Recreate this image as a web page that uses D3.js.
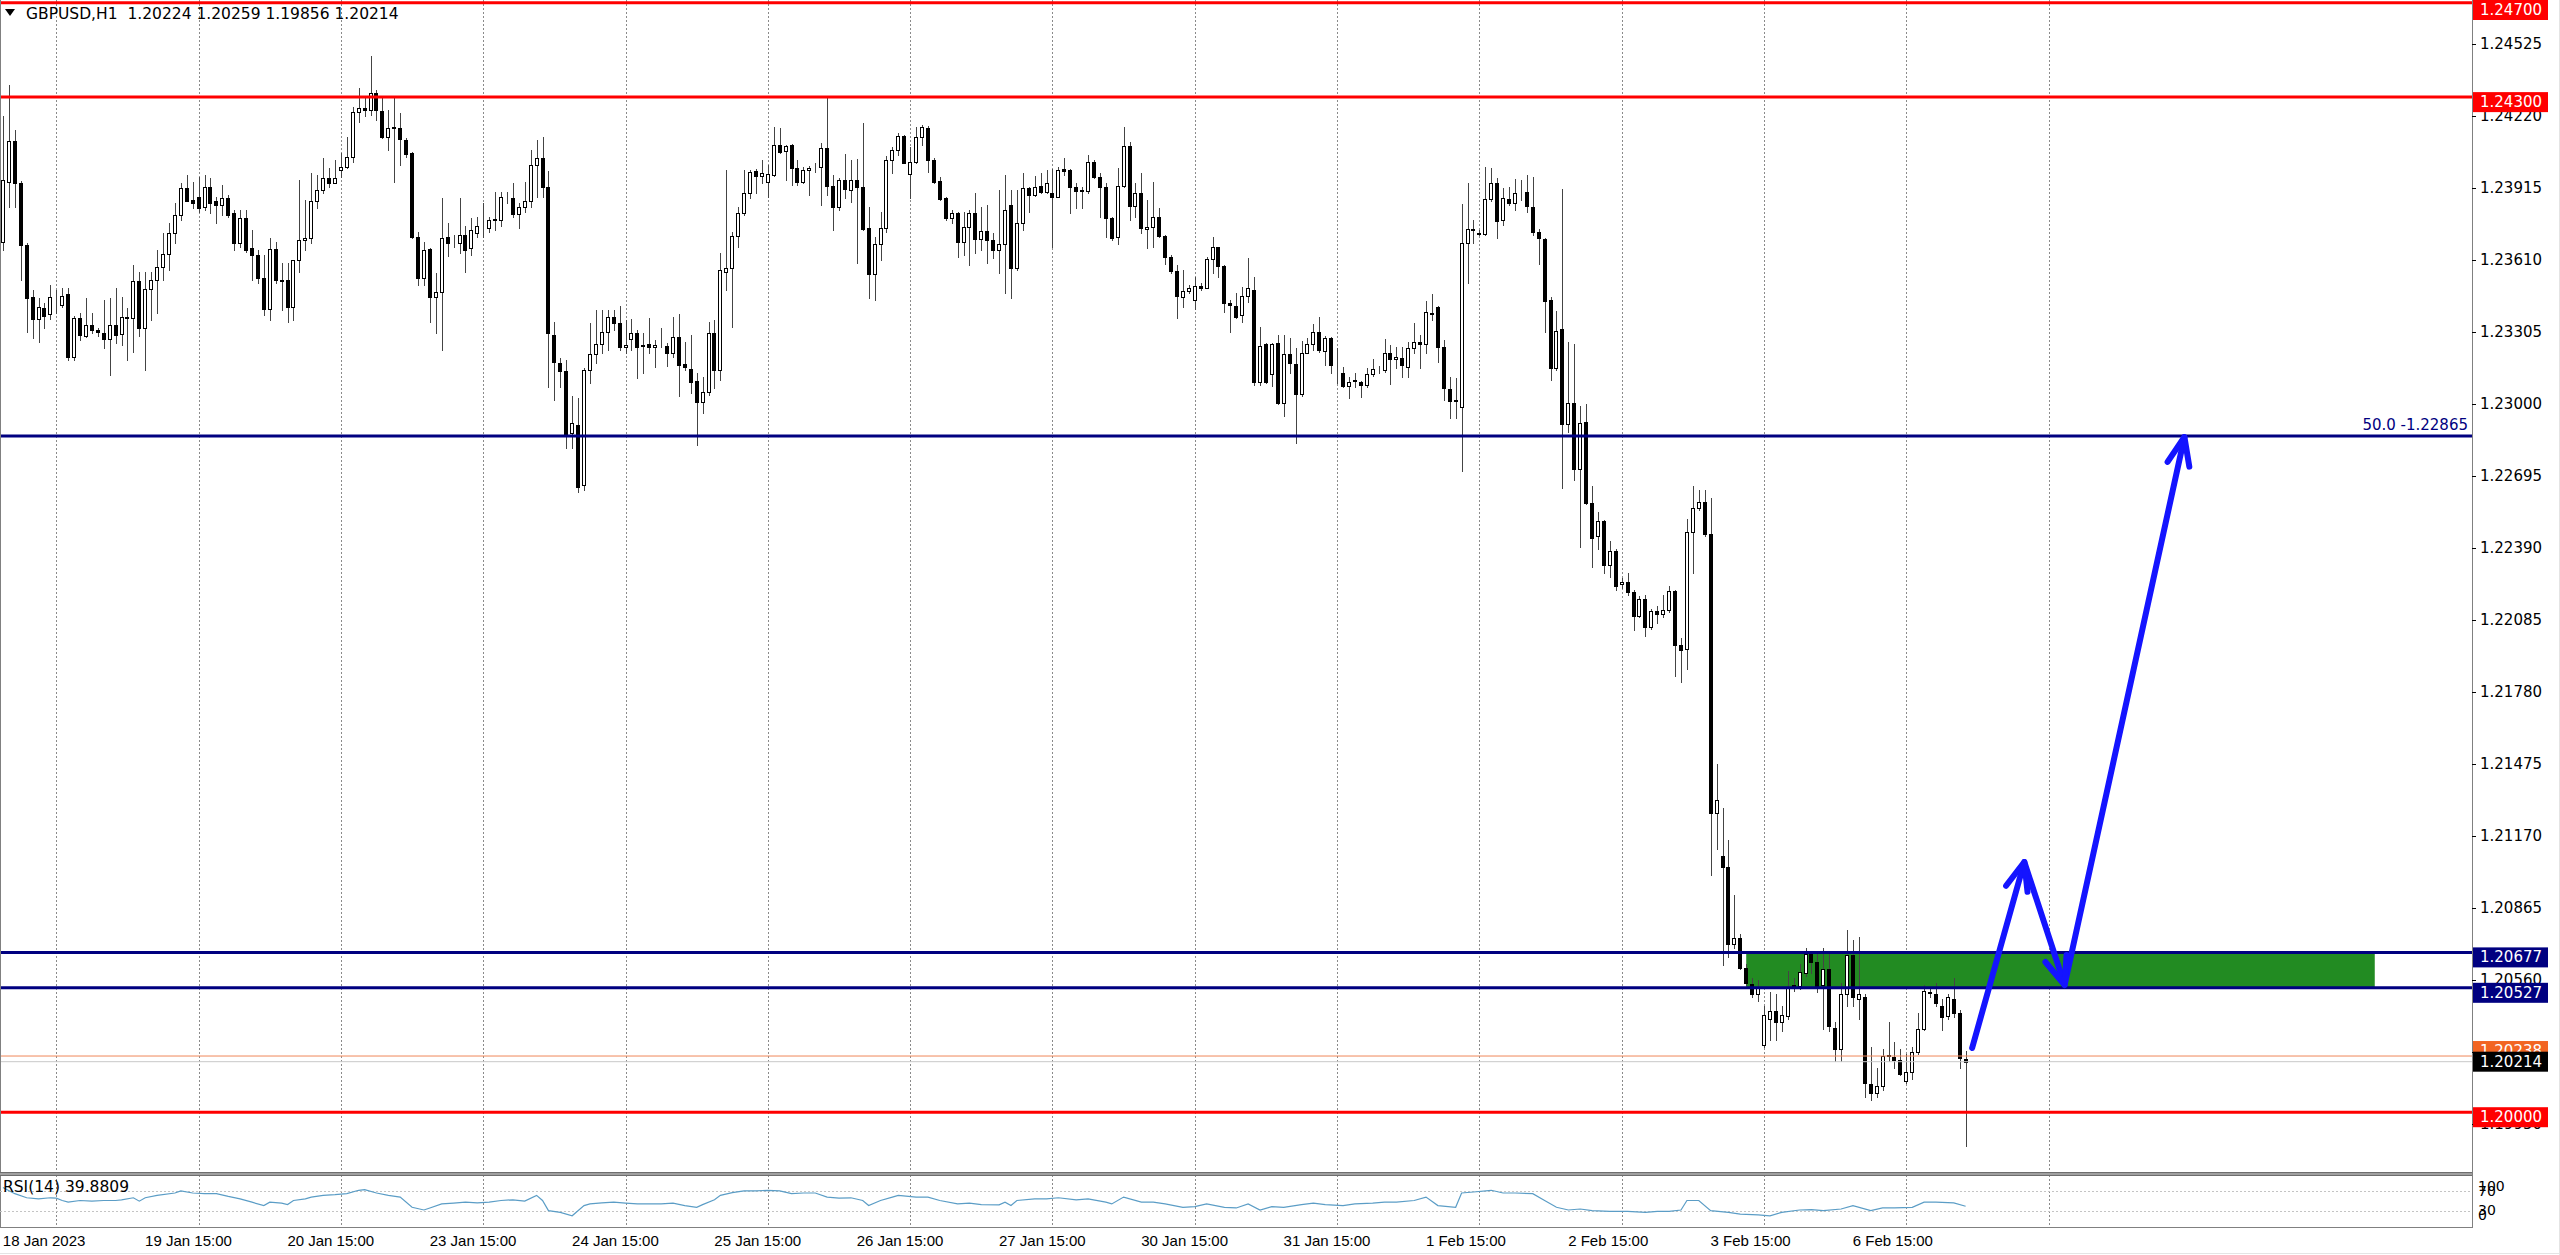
<!DOCTYPE html>
<html><head><meta charset="utf-8">
<script src="https://cdn.jsdelivr.net/npm/d3@7"></script>
<style>html,body{margin:0;padding:0;background:#fff;overflow:hidden}</style>
</head><body>
<svg id="c" width="2560" height="1255" xmlns="http://www.w3.org/2000/svg"></svg>
<script>
// ---------- DATA (GBPUSD H1, 18 Jan 2023 06:00 .. 7 Feb 2023 01:00) ----------
const symbolTitle = "GBPUSD,H1  1.20224 1.20259 1.19856 1.20214";
const open = [
1.23688,1.23942,1.24112,1.23935,1.23674,1.23452,1.23359,1.23406,1.23380,1.23434,
1.23420,1.23468,1.23201,1.23366,1.23290,1.23335,1.23314,1.23300,1.23277,1.23335,
1.23297,1.23370,1.23363,1.23519,1.23321,1.23486,1.23526,1.23582,1.23636,1.23723,
1.23801,1.23914,1.23865,1.23879,1.23836,1.23918,1.23858,1.23843,1.23872,1.23808,
1.23681,1.23787,1.23660,1.23632,1.23533,1.23403,1.23658,1.23526,1.23526,1.23409,
1.23610,1.23695,1.23702,1.23858,1.23907,1.23956,1.23938,1.23992,1.24006,1.24048,
1.24239,1.24253,1.24246,1.24319,1.24242,1.24130,1.24175,1.24168,1.24119,1.24062,
1.23709,1.23533,1.23656,1.23455,1.23476,1.23706,1.23684,1.23684,1.23714,1.23660,
1.23726,1.23742,1.23745,1.23783,1.23780,1.23874,1.23872,1.23804,1.23834,1.23858,
1.24013,1.24041,1.23921,1.23293,1.23173,1.23140,1.22876,1.22911,1.22657,1.23144,
1.23211,1.23253,1.23306,1.23370,1.23342,1.23243,1.23274,1.23302,1.23250,1.23254,
1.23240,1.23250,1.23247,1.23215,1.23285,1.23169,1.23147,1.23097,1.23010,1.23052,
1.23302,1.23144,1.23560,1.23575,1.23712,1.23810,1.23895,1.23987,1.23966,1.23942,
1.23970,1.24097,1.24072,1.24097,1.24001,1.23942,1.23991,1.24002,1.24002,1.24083,
1.23923,1.23836,1.23949,1.23906,1.23949,1.23921,1.23747,1.23549,1.23676,1.23744,
1.24033,1.24076,1.24135,1.23974,1.24026,1.24132,1.24168,1.24033,1.23946,1.23871,
1.23786,1.23810,1.23688,1.23751,1.23810,1.23697,1.23734,1.23695,1.23652,1.23678,
1.23843,1.23575,1.23765,1.23916,1.23885,1.23923,1.23899,1.23895,1.23878,1.23994,
1.23991,1.23918,1.23906,1.23902,1.24026,1.23960,1.23921,1.23789,1.23706,1.23923,
1.24093,1.23839,1.23895,1.23740,1.23748,1.23794,1.23712,1.23624,1.23565,1.23452,
1.23480,1.23441,1.23500,1.23493,1.23613,1.23664,1.23585,1.23429,1.23415,1.23377,
1.23457,1.23483,1.23095,1.23253,1.23127,1.23257,1.23006,1.23210,1.23168,1.23041,
1.23217,1.23253,1.23306,1.23226,1.23278,1.23133,1.23130,1.23078,1.23098,1.23095,
1.23080,1.23127,1.23146,1.23144,1.23215,1.23189,1.23196,1.23158,1.23236,1.23264,
1.23254,1.23387,1.23409,1.23243,1.23062,1.23017,1.22986,1.23683,1.23740,1.23723,
1.23720,1.23867,1.23935,1.23779,1.23868,1.23850,1.23898,1.23899,1.23836,1.23729,
1.23698,1.23441,1.23154,1.23316,1.22915,1.23005,1.22723,1.22924,1.22579,1.22441,
1.22504,1.22316,1.22379,1.22238,1.22245,1.22203,1.22104,1.22172,1.22057,1.22125,
1.22109,1.22128,1.22209,1.21979,1.21964,1.22457,1.22559,1.22585,1.22449,1.21268,
1.21084,1.21039,1.20714,1.20739,1.20611,1.20545,1.20500,1.20286,1.20393,1.20428,
1.20383,1.20409,1.20533,1.20533,1.20588,1.20675,1.20636,1.20539,1.20607,1.20358,
1.20267,1.20500,1.20665,1.20481,1.20490,1.20121,1.20082,1.20111,1.20238,1.20234,
1.20222,1.20131,1.20170,1.20257,1.20354,1.20510,1.20500,1.20448,1.20409,1.20481,
1.20422,1.20224];
const high = [
1.24218,1.24352,1.24161,1.23945,1.23680,1.23483,1.23448,1.23427,1.23505,1.23483,
1.23490,1.23490,1.23373,1.23385,1.23448,1.23385,1.23321,1.23441,1.23448,1.23490,
1.23455,1.23406,1.23589,1.23561,1.23561,1.23561,1.23653,1.23723,1.23766,1.23850,
1.23935,1.23970,1.23942,1.23963,1.23970,1.23956,1.23879,1.23928,1.23886,1.23822,
1.23822,1.23822,1.23738,1.23653,1.23632,1.23702,1.23688,1.23596,1.23596,1.23610,
1.23949,1.23865,1.23978,1.23970,1.24041,1.23999,1.24034,1.24062,1.24133,1.24260,
1.24338,1.24295,1.24475,1.24331,1.24302,1.24246,1.24295,1.24232,1.24126,1.24069,
1.23730,1.23688,1.23660,1.23554,1.23872,1.23766,1.23716,1.23872,1.23752,1.23787,
1.23794,1.23850,1.23794,1.23900,1.23900,1.23900,1.23935,1.23850,1.23942,1.24076,
1.24119,1.24133,1.23985,1.23349,1.23194,1.23187,1.23032,1.23024,1.23152,1.23342,
1.23399,1.23398,1.23398,1.23398,1.23415,1.23356,1.23359,1.23313,1.23299,1.23363,
1.23271,1.23320,1.23257,1.23370,1.23381,1.23264,1.23292,1.23130,1.23116,1.23349,
1.23356,1.23638,1.23991,1.23730,1.23836,1.23991,1.23991,1.23994,1.24033,1.24012,
1.24175,1.24168,1.24097,1.24100,1.24033,1.24005,1.24008,1.24019,1.24107,1.24299,
1.23970,1.23956,1.24057,1.24033,1.24036,1.24189,1.23836,1.23709,1.23815,1.24050,
1.24090,1.24149,1.24139,1.24090,1.24175,1.24182,1.24178,1.24040,1.23963,1.23875,
1.23822,1.23815,1.23815,1.23822,1.23892,1.23836,1.23843,1.23723,1.23906,1.23970,
1.23906,1.23906,1.23977,1.23921,1.23966,1.23977,1.23991,1.23994,1.24005,1.24041,
1.23994,1.23935,1.23921,1.24055,1.24033,1.23977,1.23935,1.23794,1.23998,1.24172,
1.24111,1.23935,1.23980,1.23864,1.23942,1.23829,1.23716,1.23631,1.23589,1.23568,
1.23504,1.23539,1.23511,1.23624,1.23706,1.23666,1.23589,1.23441,1.23469,1.23497,
1.23617,1.23539,1.23328,1.23257,1.23260,1.23292,1.23292,1.23278,1.23236,1.23268,
1.23278,1.23339,1.23370,1.23288,1.23285,1.23236,1.23158,1.23116,1.23133,1.23099,
1.23151,1.23189,1.23161,1.23274,1.23250,1.23243,1.23243,1.23264,1.23342,1.23292,
1.23438,1.23466,1.23415,1.23271,1.23116,1.23109,1.23847,1.23935,1.23779,1.23737,
1.24005,1.23998,1.23956,1.23914,1.23921,1.23952,1.23949,1.23970,1.23961,1.23742,
1.23703,1.23452,1.23394,1.23911,1.23264,1.23253,1.22993,1.23002,1.22653,1.22543,
1.22510,1.22418,1.22386,1.22261,1.22285,1.22214,1.22187,1.22190,1.22131,1.22144,
1.22191,1.22230,1.22214,1.22010,1.22512,1.22653,1.22637,1.22637,1.22601,1.21473,
1.21288,1.21152,1.20922,1.20753,1.20627,1.20568,1.20559,1.20448,1.20510,1.20500,
1.20452,1.20597,1.20568,1.20627,1.20695,1.20685,1.20685,1.20695,1.20685,1.20383,
1.20549,1.20772,1.20728,1.20743,1.20500,1.20276,1.20189,1.20267,1.20384,1.20296,
1.20267,1.20247,1.20276,1.20422,1.20539,1.20529,1.20549,1.20481,1.20500,1.20568,
1.20432,1.20259];
const low = [
1.23653,1.23836,1.23836,1.23526,1.23307,1.23279,1.23264,1.23321,1.23359,1.23385,
1.23413,1.23187,1.23187,1.23272,1.23283,1.23300,1.23286,1.23236,1.23123,1.23257,
1.23250,1.23187,1.23222,1.23286,1.23144,1.23356,1.23385,1.23526,1.23568,1.23681,
1.23780,1.23858,1.23829,1.23815,1.23822,1.23808,1.23766,1.23801,1.23794,1.23653,
1.23667,1.23646,1.23526,1.23512,1.23377,1.23356,1.23512,1.23399,1.23349,1.23356,
1.23561,1.23653,1.23681,1.23829,1.23893,1.23921,1.23935,1.23963,1.24001,1.24027,
1.24196,1.24218,1.24225,1.24203,1.24126,1.24076,1.23942,1.24013,1.24048,1.23702,
1.23505,1.23505,1.23349,1.23300,1.23229,1.23625,1.23667,1.23639,1.23561,1.23632,
1.23709,1.23709,1.23730,1.23738,1.23752,1.23850,1.23794,1.23745,1.23815,1.23836,
1.23879,1.23879,1.23074,1.23017,1.23074,1.22813,1.22813,1.22629,1.22636,1.23088,
1.23173,1.23215,1.23229,1.23313,1.23229,1.23215,1.23229,1.23109,1.23130,1.23215,
1.23158,1.23243,1.23161,1.23200,1.23034,1.23144,1.23045,1.22826,1.22960,1.23038,
1.23066,1.23102,1.23483,1.23327,1.23666,1.23800,1.23871,1.23892,1.23935,1.23878,
1.23966,1.24062,1.23949,1.23928,1.23928,1.23935,1.23885,1.23984,1.23843,1.23885,
1.23737,1.23822,1.23871,1.23857,1.23599,1.23737,1.23447,1.23440,1.23610,1.23730,
1.23977,1.24055,1.24019,1.23871,1.24019,1.24097,1.23984,1.23935,1.23864,1.23779,
1.23765,1.23624,1.23631,1.23589,1.23638,1.23652,1.23596,1.23617,1.23553,1.23472,
1.23447,1.23568,1.23737,1.23815,1.23881,1.23892,1.23895,1.23666,1.23875,1.23970,
1.23808,1.23829,1.23829,1.23892,1.23956,1.23794,1.23709,1.23695,1.23678,1.23921,
1.23779,1.23794,1.23723,1.23659,1.23664,1.23706,1.23593,1.23553,1.23363,1.23412,
1.23469,1.23401,1.23483,1.23490,1.23553,1.23539,1.23391,1.23306,1.23363,1.23349,
1.23433,1.23080,1.23080,1.23088,1.23078,1.23000,1.22949,1.23130,1.22836,1.23034,
1.23215,1.23229,1.23222,1.23165,1.23133,1.23088,1.23073,1.23027,1.23073,1.23031,
1.23073,1.23119,1.23130,1.23137,1.23083,1.23151,1.23116,1.23116,1.23215,1.23151,
1.23215,1.23356,1.23179,1.23017,1.22939,1.22939,1.22716,1.23511,1.23680,1.23716,
1.23716,1.23861,1.23702,1.23758,1.23843,1.23822,1.23864,1.23815,1.23718,1.23593,
1.23303,1.23100,1.23146,1.22645,1.22880,1.22680,1.22394,1.22575,1.22308,1.22386,
1.22285,1.22269,1.22214,1.22222,1.22191,1.22042,1.22097,1.22018,1.22046,1.22073,
1.22097,1.22120,1.21846,1.21822,1.21877,1.22285,1.22551,1.22441,1.21006,1.21117,
1.20623,1.20656,1.20695,1.20607,1.20539,1.20490,1.20471,1.20276,1.20306,1.20306,
1.20345,1.20393,1.20514,1.20520,1.20578,1.20588,1.20510,1.20354,1.20345,1.20218,
1.20218,1.20451,1.20452,1.20393,1.20063,1.20053,1.20063,1.20092,1.20218,1.20189,
1.20156,1.20125,1.20140,1.20247,1.20350,1.20490,1.20452,1.20350,1.20393,1.20402,
1.20189,1.19856];
const close = [
1.23949,1.24112,1.23935,1.23674,1.23448,1.23359,1.23410,1.23373,1.23452,1.23430,
1.23458,1.23201,1.23366,1.23293,1.23335,1.23314,1.23303,1.23277,1.23335,1.23293,
1.23370,1.23363,1.23519,1.23321,1.23486,1.23526,1.23582,1.23636,1.23723,1.23801,
1.23914,1.23862,1.23853,1.23829,1.23918,1.23850,1.23843,1.23872,1.23801,1.23681,
1.23787,1.23653,1.23632,1.23533,1.23403,1.23658,1.23526,1.23523,1.23409,1.23610,
1.23695,1.23702,1.23858,1.23907,1.23956,1.23938,1.23956,1.24006,1.24048,1.24239,
1.24253,1.24246,1.24319,1.24246,1.24130,1.24168,1.24168,1.24122,1.24059,1.23709,
1.23533,1.23653,1.23455,1.23476,1.23702,1.23684,1.23684,1.23714,1.23653,1.23738,
1.23756,1.23742,1.23780,1.23780,1.23879,1.23872,1.23804,1.23834,1.23858,1.24013,
1.24041,1.23921,1.23300,1.23176,1.23140,1.22869,1.22919,1.22650,1.23144,1.23211,
1.23253,1.23306,1.23370,1.23342,1.23243,1.23250,1.23302,1.23243,1.23245,1.23240,
1.23250,1.23252,1.23215,1.23285,1.23165,1.23155,1.23094,1.23010,1.23052,1.23302,
1.23144,1.23568,1.23575,1.23712,1.23810,1.23895,1.23984,1.23966,1.23980,1.23974,
1.24097,1.24069,1.24093,1.24001,1.23942,1.23991,1.24001,1.24003,1.24083,1.23923,
1.23836,1.23949,1.23909,1.23949,1.23921,1.23740,1.23549,1.23676,1.23744,1.24033,
1.24076,1.24135,1.24022,1.24026,1.24132,1.24172,1.24033,1.23942,1.23867,1.23786,
1.23808,1.23688,1.23751,1.23810,1.23697,1.23734,1.23695,1.23652,1.23678,1.23822,
1.23575,1.23765,1.23913,1.23885,1.23921,1.23899,1.23935,1.23878,1.23991,1.23988,
1.23921,1.23904,1.23902,1.24026,1.23960,1.23921,1.23789,1.23702,1.23923,1.24093,
1.23839,1.23895,1.23744,1.23748,1.23794,1.23712,1.23624,1.23565,1.23457,1.23480,
1.23490,1.23500,1.23493,1.23613,1.23664,1.23585,1.23429,1.23419,1.23370,1.23457,
1.23490,1.23092,1.23247,1.23095,1.23254,1.23006,1.23210,1.23172,1.23041,1.23217,
1.23253,1.23306,1.23229,1.23278,1.23165,1.23130,1.23078,1.23095,1.23100,1.23080,
1.23127,1.23147,1.23144,1.23215,1.23189,1.23200,1.23165,1.23236,1.23264,1.23254,
1.23391,1.23381,1.23243,1.23066,1.23014,1.23014,1.23683,1.23740,1.23738,1.23721,
1.23867,1.23935,1.23775,1.23871,1.23850,1.23895,1.23900,1.23839,1.23729,1.23703,
1.23436,1.23154,1.23311,1.22915,1.23005,1.22723,1.22919,1.22579,1.22433,1.22504,
1.22316,1.22379,1.22230,1.22245,1.22203,1.22104,1.22172,1.22057,1.22125,1.22109,
1.22128,1.22209,1.21979,1.21959,1.22457,1.22559,1.22585,1.22449,1.21268,1.21323,
1.21039,1.20714,1.20739,1.20611,1.20549,1.20500,1.20529,1.20413,1.20428,1.20383,
1.20413,1.20529,1.20539,1.20592,1.20669,1.20636,1.20529,1.20607,1.20364,1.20267,
1.20500,1.20665,1.20490,1.20500,1.20125,1.20082,1.20111,1.20238,1.20241,1.20222,
1.20160,1.20170,1.20257,1.20354,1.20514,1.20506,1.20461,1.20403,1.20487,1.20422,
1.20228,1.20214];

// RSI(14) (bar index, value)
const rsiBars = [0,2,4,6,8,9,10,11,13,15,17,19,20,22,23,24,26,29,30,32,34,36,38,40,42,44,45,47,48,49,51,52,54,56,58,60,61,63,65,67,69,71,72,74,76,78,80,82,84,86,88,90,91,92,94,96,98,99,101,103,105,107,109,111,113,115,117,118,120,121,123,125,127,129,131,133,135,137,139,141,143,145,146,148,150,
151,154,156,158,161,163,165,168,169,170,171,174,176,178,181,183,186,187,189,192,194,196,199,201,203,206,208,210,212,214,216,219,221,223,226,228,231,233,235,238,240,242,245,246,248,251,253,255,258,260,262,264,266,268,271,274,277,279,281,283,284,286,288,291,293,296,298,300,303,305,307,310,312,315,317,319,322,324,326,329,331];
const rsiValues = [75.8,64.1,56.2,54.2,56.2,55.6,51,47.7,51,49.7,51,51,52.3,56.2,49.7,56.2,60.8,65.4,69.3,65.4,64.1,64.1,58.8,54.2,47.7,41.2,47.7,45.8,43.1,51,54.2,57.5,60.8,62.1,64.1,70.6,71.9,65.4,60.8,57.5,37.9,32.7,36.6,44.4,45.8,47.7,46.4,47.7,51,52.3,49.7,60.8,51,31.4,28.1,21.6,41.2,44.4,46.4,47.7,45.8,44.4,44.4,44.4,45.8,41.2,37.9,43.1,52.3,60.8,66,69.3,69.3,70.6,69.3,64.1,65.4,65.4,57.5,55.6,56.2,51,41.2,51,57.5,
60.8,57.5,57.5,51,44.4,45.8,43.1,42.5,47.7,41.2,51,54.2,54.2,56.2,52.3,54.2,47.7,44.4,57.5,47.7,47.7,44.4,37.9,39.2,44.4,37.9,36.6,44.4,32.7,39.2,37.9,43.1,45.8,43.1,41.2,44.4,45.8,47.7,47.7,51,57.5,41.2,37.9,65.4,67.3,70.6,65.4,65.4,64.1,51,37.9,32.7,34.6,31.4,30.1,30.1,28.1,30.1,30.1,32.7,51,51,31.4,28.1,24.8,23.5,21.6,28.1,32.7,33.3,31.4,34.6,41.2,31.4,36.6,36.6,37.9,47.7,47.7,46.4,39.88];
const rsiLabel = "RSI(14) 39.8809";
const rsiLevels = [70, 30];
const rsiAxisLabels = ["100", "70", "30", "0"];

// time axis
const timeLabelBars = [9,33,57,81,105,129,153,177,201,225,249,273,297,321];
const timeLabels = ["18 Jan 2023","19 Jan 15:00","20 Jan 15:00","23 Jan 15:00","24 Jan 15:00","25 Jan 15:00","26 Jan 15:00","27 Jan 15:00","30 Jan 15:00","31 Jan 15:00","1 Feb 15:00","2 Feb 15:00","3 Feb 15:00","6 Feb 15:00"];
const gridBars = [9,33,57,81,105,129,153,177,201,225,249,273,297,321,345];
// price axis
const priceTicks = [1.24525,1.24220,1.23915,1.23610,1.23305,1.23000,1.22695,1.22390,1.22085,1.21780,1.21475,1.21170,1.20865,1.20560,1.20255,1.19950];

// chart objects
const redLevels = [1.24700, 1.24300, 1.20000];
const navyLevels = [1.20677, 1.20527];
const fiboLevel = 1.22865, fiboText = "50.0 -1.22865";
const bidPrice = 1.20214, askPrice = 1.20238;
const zoneBars = [294, 400], zonePrices = [1.20677, 1.20527];
const arrowBars = [332.1, 340.9, 347.7, 367.9];
const arrowPrices = [1.20272, 1.21060, 1.20539, 1.22860];

// ---------- DRAW ----------
const W = 2560, H = 1255, PR = 2472, MB = 1173, RT = 1175, RB = 1227;
const svg = d3.select("#c");
const fmt = d3.format(".5f");
const FONT = "'DejaVu Sans', Verdana, sans-serif";
const x = d3.scaleLinear().domain([0, 416.4]).range([2.93, PR]);
const y = d3.scaleLinear().domain([1.197425, 1.247114]).range([MB, 0]);
const yr = d3.scaleLinear().domain([0, 100]).range([RB, RT]);

svg.append("rect").attr("width", W).attr("height", H).attr("fill", "#fff");
const defs = svg.append("defs");
defs.append("clipPath").attr("id", "main").append("rect").attr("x", 0).attr("y", 0).attr("width", PR).attr("height", MB);
defs.append("clipPath").attr("id", "rsi").append("rect").attr("x", 0).attr("y", RT).attr("width", PR).attr("height", RB - RT);

// vertical grid
const grid = svg.append("g").attr("stroke", "#8a8a8a").attr("stroke-width", 1).attr("stroke-dasharray", "2,2").attr("shape-rendering", "crispEdges");
gridBars.forEach(b => {
  const gx = Math.round(x(b)) + 0.5;
  grid.append("line").attr("x1", gx).attr("x2", gx).attr("y1", 0).attr("y2", MB);
  grid.append("line").attr("x1", gx).attr("x2", gx).attr("y1", RT).attr("y2", RB);
});

// green zone (background object)
svg.append("rect")
  .attr("x", x(zoneBars[0])).attr("width", x(zoneBars[1]) - x(zoneBars[0]))
  .attr("y", y(zonePrices[0])).attr("height", y(zonePrices[1]) - y(zonePrices[0]))
  .attr("fill", "#228b22");

// candles
const cg = svg.append("g").attr("clip-path", "url(#main)").attr("shape-rendering", "crispEdges");
open.forEach((o, i) => {
  const c = close[i];
  const cx = Math.round(x(i));
  cg.append("line").attr("x1", cx + 0.5).attr("x2", cx + 0.5)
    .attr("y1", Math.round(y(high[i]))).attr("y2", Math.round(y(low[i])) + 1)
    .attr("stroke", "#444").attr("stroke-width", 1);
  const t = Math.round(y(Math.max(o, c))), bt = Math.round(y(Math.min(o, c)));
  cg.append("rect").attr("x", cx - 1.5).attr("width", 3)
    .attr("y", t + 0.5).attr("height", Math.max(0, bt - t))
    .attr("fill", c >= o ? "#fff" : "#000").attr("stroke", "#000").attr("stroke-width", 1);
});

// horizontal objects
const lg = svg.append("g").attr("clip-path", "url(#main)");
function hline(p, color, w) {
  lg.append("line").attr("x1", 0).attr("x2", PR).attr("y1", y(p)).attr("y2", y(p))
    .attr("stroke", color).attr("stroke-width", w);
}
hline(bidPrice, "#c8c8c8", 1);
hline(askPrice, "#f0875a", 1);
hline(fiboLevel, "#000080", 3);
redLevels.forEach(p => hline(p, "#ff0000", 3));
navyLevels.forEach(p => hline(p, "#000080", 3));
lg.append("text").attr("x", PR - 4).attr("y", y(fiboLevel) - 6)
  .attr("text-anchor", "end").attr("font-family", FONT).attr("font-size", 15)
  .attr("fill", "#000080").text(fiboText);

// blue projection arrows
const ag = svg.append("g").attr("clip-path", "url(#main)").attr("stroke", "#1414ff")
  .attr("stroke-width", 6).attr("stroke-linecap", "round").attr("stroke-linejoin", "round").attr("fill", "none");
const pts = arrowBars.map((b, k) => [x(b), y(arrowPrices[k])]);
ag.append("path").attr("d", d3.line()(pts));
[1, 2, 3].forEach(k => {
  const [x1, y1] = pts[k - 1], [x2, y2] = pts[k];
  const ang = Math.atan2(y2 - y1, x2 - x1), L = 30, a = 0.38;
  const hp = [[x2 - L * Math.cos(ang - a), y2 - L * Math.sin(ang - a)], [x2, y2], [x2 - L * Math.cos(ang + a), y2 - L * Math.sin(ang + a)]];
  ag.append("path").attr("d", d3.line()(hp));
});

// frames
const fr = svg.append("g").attr("fill", "none").attr("shape-rendering", "crispEdges");
fr.append("line").attr("x1", 0.5).attr("x2", 0.5).attr("y1", 0).attr("y2", RB).attr("stroke", "#808080");
fr.append("rect").attr("x", 0).attr("y", MB - 0.5).attr("width", PR).attr("height", 2.5).attr("fill", "#a0a0a0").attr("stroke", "none");
fr.append("line").attr("x1", 0).attr("x2", PR).attr("y1", MB - 0.5).attr("y2", MB - 0.5).attr("stroke", "#6e6e6e");
fr.append("line").attr("x1", 0).attr("x2", PR).attr("y1", RT + 0.5).attr("y2", RT + 0.5).attr("stroke", "#6e6e6e");
fr.append("line").attr("x1", 0).attr("x2", PR).attr("y1", RB + 0.5).attr("y2", RB + 0.5).attr("stroke", "#808080");
fr.append("line").attr("x1", PR + 0.5).attr("x2", PR + 0.5).attr("y1", 0).attr("y2", RB + 1).attr("stroke", "#808080");
fr.append("line").attr("x1", W - 0.5).attr("x2", W - 0.5).attr("y1", 0).attr("y2", H).attr("stroke", "#e4e4e4");
fr.append("line").attr("x1", 0).attr("x2", W).attr("y1", H - 1.5).attr("y2", H - 1.5).attr("stroke", "#e4e4e4");

// price axis
const pax = svg.append("g").attr("transform", `translate(${PR},0)`)
  .call(d3.axisRight(y).tickValues(priceTicks).tickFormat(fmt).tickSize(4).tickPadding(4));
pax.select(".domain").remove();
pax.selectAll("line").attr("stroke", "#000");
pax.selectAll("text").attr("font-family", FONT).attr("font-size", 15).attr("fill", "#000");

// price boxes
function box(p, fill, txt, dy) {
  const cy = Math.max(10, y(p) + dy);
  svg.append("rect").attr("x", PR + 1).attr("y", cy - 10).attr("width", 75).attr("height", 20).attr("fill", fill);
  svg.append("text").attr("x", PR + 8).attr("y", cy).attr("dominant-baseline", "central")
    .attr("font-family", FONT).attr("font-size", 15).attr("fill", "#fff").text(txt);
}
box(askPrice, "#f26522", fmt(askPrice), -5);
box(bidPrice, "#000", fmt(bidPrice), 0);
redLevels.forEach(p => box(p, "#ff0000", fmt(p), 5));
navyLevels.forEach(p => box(p, "#000080", fmt(p), 5));

// title
svg.append("path").attr("d", "M5,9 L15,9 L10,16 Z").attr("fill", "#000");
svg.append("text").attr("x", 26).attr("y", 14).attr("dominant-baseline", "central")
  .attr("font-family", FONT).attr("font-size", 15.5).attr("fill", "#000").attr("xml:space", "preserve")
  .style("white-space", "pre").text(symbolTitle);

// RSI window
const rg = svg.append("g").attr("clip-path", "url(#rsi)");
rsiLevels.forEach(v => rg.append("line").attr("x1", 0).attr("x2", PR).attr("y1", Math.round(yr(v)) + 0.5).attr("y2", Math.round(yr(v)) + 0.5)
  .attr("stroke", "#c4c4c4").attr("stroke-dasharray", "2,2"));
rg.append("path").attr("d", d3.line().x((b) => x(b)).y((b, k) => yr(rsiValues[k]))(rsiBars))
  .attr("fill", "none").attr("stroke", "#5b9dc6").attr("stroke-width", 1.2);
svg.append("text").attr("x", 3).attr("y", 1187).attr("dominant-baseline", "central")
  .attr("font-family", FONT).attr("font-size", 15.5).attr("fill", "#000").text(rsiLabel);
const rsiLabelY = [1186, 1191, 1210, 1215];
rsiAxisLabels.forEach((t, k) => svg.append("text").attr("x", PR + 6).attr("y", rsiLabelY[k]).attr("dominant-baseline", "central")
  .attr("font-family", FONT).attr("font-size", 14).attr("fill", "#000").text(t));

// time axis
const tax = svg.append("g").attr("transform", `translate(0,${RB})`)
  .call(d3.axisBottom(x).tickValues(timeLabelBars).tickFormat((d, k) => timeLabels[k]).tickSize(0).tickPadding(0));
tax.select(".domain").remove();
tax.selectAll("text").attr("text-anchor", "start").attr("dx", -54).attr("y", 19).attr("dy", 0)
  .attr("font-family", "'Liberation Sans', Arial, sans-serif")
  .attr("font-size", 15).attr("fill", "#000");
</script>
</body></html>
